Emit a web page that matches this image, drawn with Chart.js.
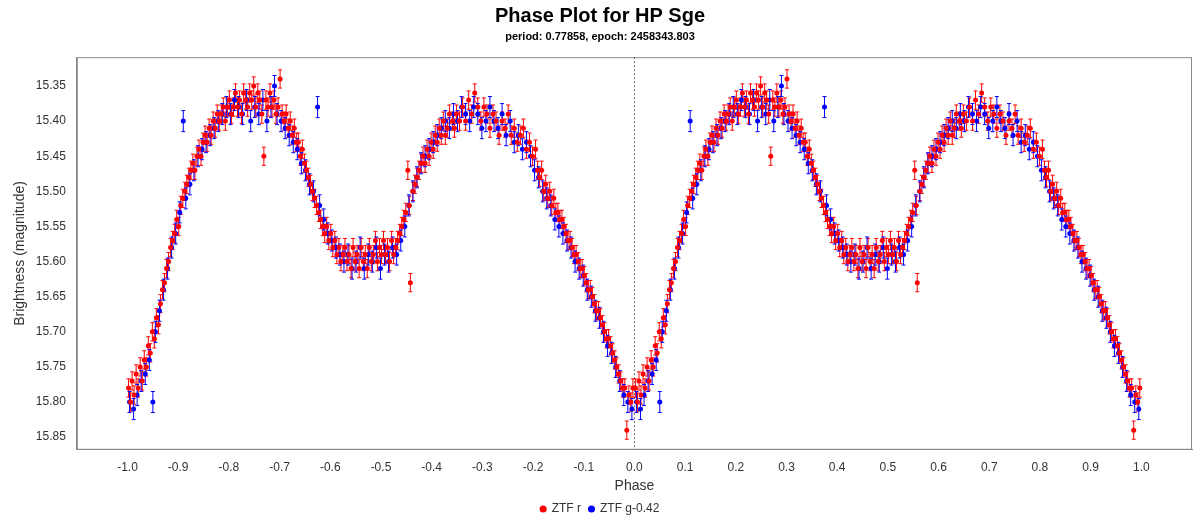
<!DOCTYPE html>
<html lang="en">
<head>
    <meta charset="UTF-8">
    <title>Phase Plot for HP Sge</title>
    <script src="https://cdn.jsdelivr.net/npm/chart.js"></script>
    <style>
        body { margin: 0; background: #fff; }
        #wrap { width: 1204px; height: 527px; }
    </style>
</head>
<body>
    <div id="wrap"><canvas id="myChart"></canvas></div>

    <script>
        // [phase, magnitude], phase 0..1
        const ztfR = [
            [0.002,15.78],[0.006,15.80],[0.009,15.77],[0.013,15.79],[0.017,15.76],[0.021,15.78],[0.025,15.75],[0.029,15.77],
            [0.033,15.74],[0.037,15.75],[0.041,15.72],[0.045,15.73],[0.049,15.70],[0.053,15.71],[0.057,15.68],[0.061,15.69],
            [0.065,15.66],[0.069,15.64],[0.073,15.63],[0.077,15.61],[0.081,15.60],[0.085,15.58],[0.089,15.57],[0.093,15.56],
            [0.097,15.54],[0.101,15.55],[0.105,15.52],[0.109,15.51],[0.113,15.50],[0.117,15.49],[0.121,15.48],[0.125,15.47],
            [0.129,15.46],[0.133,15.47],[0.137,15.45],[0.141,15.44],[0.145,15.45],[0.149,15.43],[0.153,15.42],[0.157,15.43],
            [0.161,15.41],[0.165,15.42],[0.169,15.40],[0.173,15.41],[0.177,15.39],[0.181,15.40],[0.185,15.39],[0.189,15.38],
            [0.193,15.40],[0.197,15.38],[0.201,15.37],[0.205,15.39],[0.209,15.38],[0.213,15.36],[0.217,15.38],[0.221,15.37],
            [0.225,15.39],[0.229,15.36],[0.233,15.37],[0.237,15.38],[0.241,15.36],[0.245,15.37],[0.249,15.35],[0.253,15.38],
            [0.257,15.36],[0.261,15.37],[0.265,15.39],[0.269,15.45],[0.273,15.37],[0.277,15.38],[0.281,15.36],[0.285,15.38],
            [0.289,15.37],[0.293,15.39],[0.297,15.38],[0.301,15.34],[0.305,15.39],[0.309,15.40],[0.313,15.39],[0.317,15.41],
            [0.321,15.40],[0.325,15.42],[0.329,15.41],[0.333,15.43],[0.337,15.43],[0.341,15.45],[0.345,15.44],[0.349,15.46],
            [0.353,15.47],[0.357,15.48],[0.361,15.49],[0.365,15.50],[0.369,15.51],[0.373,15.52],[0.377,15.53],[0.381,15.54],
            [0.385,15.55],[0.389,15.56],[0.393,15.55],[0.397,15.57],[0.401,15.56],[0.405,15.58],[0.409,15.57],[0.413,15.59],
            [0.417,15.58],[0.421,15.60],[0.425,15.59],[0.429,15.58],[0.433,15.60],[0.437,15.59],[0.441,15.61],[0.445,15.58],
            [0.449,15.60],[0.453,15.59],[0.457,15.61],[0.461,15.58],[0.465,15.60],[0.469,15.59],[0.473,15.61],[0.477,15.58],
            [0.481,15.60],[0.485,15.59],[0.489,15.57],[0.493,15.60],[0.497,15.58],[0.501,15.59],[0.505,15.57],[0.509,15.59],
            [0.513,15.58],[0.517,15.60],[0.521,15.57],[0.525,15.59],[0.529,15.58],[0.533,15.57],[0.537,15.56],[0.541,15.55],
            [0.545,15.54],[0.549,15.53],[0.553,15.47],[0.556,15.52],[0.558,15.63],[0.563,15.50],[0.567,15.49],[0.571,15.48],
            [0.575,15.47],[0.579,15.46],[0.583,15.45],[0.587,15.46],[0.591,15.44],[0.595,15.45],[0.599,15.43],[0.603,15.44],
            [0.607,15.42],[0.611,15.43],[0.615,15.41],[0.619,15.42],[0.623,15.40],[0.627,15.42],[0.631,15.41],[0.635,15.39],
            [0.641,15.40],[0.645,15.41],[0.649,15.39],[0.655,15.40],[0.661,15.38],[0.667,15.40],[0.673,15.37],[0.679,15.39],
            [0.685,15.36],[0.691,15.38],[0.697,15.40],[0.703,15.38],[0.709,15.39],[0.715,15.41],[0.721,15.39],[0.727,15.40],
            [0.733,15.42],[0.739,15.40],[0.745,15.41],[0.751,15.39],[0.757,15.42],[0.763,15.41],[0.769,15.43],[0.775,15.42],
            [0.781,15.41],[0.787,15.44],[0.793,15.43],[0.799,15.45],[0.805,15.44],[0.809,15.47],[0.813,15.48],[0.817,15.47],
            [0.821,15.50],[0.825,15.49],[0.829,15.51],[0.833,15.50],[0.837,15.52],[0.841,15.51],[0.845,15.53],[0.849,15.53],
            [0.853,15.54],[0.857,15.54],[0.861,15.55],[0.865,15.56],[0.869,15.57],[0.873,15.57],[0.877,15.58],[0.881,15.59],
            [0.885,15.59],[0.889,15.60],[0.893,15.61],[0.897,15.61],[0.901,15.62],[0.905,15.63],[0.909,15.64],[0.913,15.64],
            [0.917,15.65],[0.921,15.66],[0.925,15.67],[0.929,15.67],[0.933,15.68],[0.937,15.69],[0.941,15.70],[0.945,15.71],
            [0.949,15.71],[0.953,15.72],[0.957,15.73],[0.961,15.74],[0.965,15.75],[0.969,15.76],[0.973,15.77],[0.977,15.78],
            [0.981,15.78],[0.985,15.84],[0.989,15.79],[0.993,15.80],[0.997,15.78]
        ];
        const ztfG = [
            [0.004,15.80],[0.012,15.81],[0.019,15.79],[0.027,15.77],[0.035,15.76],[0.043,15.74],[0.050,15.80],[0.055,15.70],
            [0.063,15.67],[0.071,15.64],[0.079,15.61],[0.087,15.58],[0.095,15.56],[0.103,15.53],[0.110,15.40],[0.115,15.51],
            [0.123,15.49],[0.131,15.47],[0.139,15.45],[0.147,15.44],[0.155,15.43],[0.163,15.42],[0.171,15.41],[0.179,15.40],
            [0.187,15.39],[0.195,15.38],[0.203,15.39],[0.211,15.37],[0.219,15.38],[0.227,15.39],[0.235,15.37],[0.243,15.40],
            [0.251,15.38],[0.259,15.39],[0.267,15.37],[0.275,15.40],[0.283,15.38],[0.290,15.35],[0.295,15.39],[0.303,15.40],
            [0.311,15.41],[0.319,15.42],[0.327,15.43],[0.335,15.44],[0.343,15.46],[0.351,15.47],[0.359,15.49],[0.367,15.50],
            [0.375,15.38],[0.379,15.52],[0.387,15.54],[0.395,15.56],[0.403,15.57],[0.411,15.58],[0.419,15.59],[0.427,15.60],
            [0.435,15.59],[0.443,15.61],[0.451,15.60],[0.459,15.58],[0.467,15.61],[0.475,15.59],[0.483,15.60],[0.491,15.58],
            [0.499,15.61],[0.507,15.59],[0.515,15.60],[0.523,15.58],[0.531,15.59],[0.539,15.57],[0.547,15.55],[0.555,15.52],
            [0.563,15.50],[0.571,15.48],[0.579,15.46],[0.587,15.45],[0.595,15.44],[0.603,15.43],[0.611,15.42],[0.619,15.41],
            [0.627,15.40],[0.635,15.41],[0.643,15.39],[0.651,15.40],[0.659,15.38],[0.667,15.39],[0.675,15.40],[0.683,15.38],
            [0.691,15.39],[0.699,15.41],[0.707,15.40],[0.715,15.38],[0.723,15.40],[0.731,15.41],[0.739,15.39],[0.747,15.42],
            [0.755,15.40],[0.763,15.43],[0.771,15.42],[0.779,15.44],[0.787,15.43],[0.795,15.45],[0.803,15.47],[0.811,15.48],
            [0.819,15.50],[0.827,15.51],[0.835,15.52],[0.843,15.54],[0.851,15.55],[0.859,15.56],[0.867,15.57],[0.875,15.58],
            [0.883,15.60],[0.891,15.61],[0.899,15.62],[0.907,15.64],[0.915,15.65],[0.923,15.67],[0.931,15.68],[0.939,15.70],
            [0.947,15.72],[0.955,15.73],[0.963,15.75],[0.971,15.77],[0.979,15.79],[0.987,15.80],[0.995,15.81]
        ];

        // phase plot shows each observation twice: at phase and phase-1
        function toPoints(rows, err) {
            const pts = [];
            rows.forEach(r => {
                pts.push({x: r[0] - 1, y: r[1], err: err});
                pts.push({x: r[0], y: r[1], err: err});
            });
            return pts;
        }

        const colors = ['#ff0000', '#0000ff'];

        const errorBars = {
            id: 'errorBars',
            beforeDatasetsDraw(chart) {
                const ctx = chart.ctx, ys = chart.scales.y, xs = chart.scales.x, a = chart.chartArea;
                ctx.save();
                // frame
                ctx.strokeStyle = '#888';
                ctx.lineWidth = 1;
                ctx.strokeRect(a.left + 0.5, a.top + 0.5, a.right - a.left - 1, a.bottom - a.top - 1);
                // dotted line at phase 0
                const x0 = xs.getPixelForValue(0);
                ctx.strokeStyle = '#666';
                ctx.setLineDash([2, 2]);
                ctx.beginPath();
                ctx.moveTo(x0, a.top); ctx.lineTo(x0, a.bottom);
                ctx.stroke();
                ctx.setLineDash([]);
                chart.data.datasets.forEach((ds, i) => {
                    ctx.strokeStyle = colors[i];
                    ds.data.forEach(p => {
                        const px = xs.getPixelForValue(p.x);
                        const y1 = ys.getPixelForValue(p.y - p.err), y2 = ys.getPixelForValue(p.y + p.err);
                        ctx.beginPath();
                        ctx.moveTo(px, y1); ctx.lineTo(px, y2);
                        ctx.moveTo(px - 2, y1); ctx.lineTo(px + 2, y1);
                        ctx.moveTo(px - 2, y2); ctx.lineTo(px + 2, y2);
                        ctx.stroke();
                    });
                });
                ctx.restore();
            }
        };

        const ctx = document.getElementById('myChart').getContext('2d');
        new Chart(ctx, {
            type: 'scatter',
            data: {
                datasets: [
                    {label: 'ZTF r', data: toPoints(ztfR, 0.013), backgroundColor: colors[0], borderColor: colors[0], pointRadius: 2.5, pointBorderWidth: 0},
                    {label: 'ZTF g-0.42', data: toPoints(ztfG, 0.015), backgroundColor: colors[1], borderColor: colors[1], pointRadius: 2.5, pointBorderWidth: 0}
                ]
            },
            plugins: [errorBars],
            options: {
                responsive: true,
                maintainAspectRatio: false,
                animation: false,
                layout: {padding: {left: 8, right: 12, top: 0, bottom: 2}},
                plugins: {
                    title: {display: true, text: 'Phase Plot for HP Sge', color: '#000', font: {size: 20, weight: 'bold'}, padding: {top: 4, bottom: 2}},
                    subtitle: {display: true, text: 'period: 0.77858, epoch: 2458343.803', color: '#000', font: {size: 11, weight: 'bold'}, padding: {bottom: 14}},
                    legend: {position: 'bottom', labels: {usePointStyle: true, boxWidth: 5, boxHeight: 5, color: '#333', font: {size: 12}, padding: 8}},
                    tooltip: {enabled: false}
                },
                scales: {
                    x: {
                        min: -1.1, max: 1.1,
                        title: {display: true, text: 'Phase', color: '#333', font: {size: 14}, padding: 0},
                        grid: {display: false, drawTicks: true},
                        border: {color: '#888'},
                        ticks: {stepSize: 0.1, color: '#333', callback: v => (Math.abs(v) > 1.05 ? '' : v.toFixed(1))}
                    },
                    y: {
                        reverse: true,
                        min: 15.309, max: 15.868,
                        afterBuildTicks: axis => {
                            axis.ticks = [15.35,15.40,15.45,15.50,15.55,15.60,15.65,15.70,15.75,15.80,15.85].map(v => ({value: v}));
                        },
                        title: {display: true, text: 'Brightness (magnitude)', color: '#333', font: {size: 14}},
                        grid: {display: false},
                        border: {color: '#888'},
                        ticks: {color: '#333', callback: v => v.toFixed(2)}
                    }
                }
            }
        });
    </script>
</body>
</html>
